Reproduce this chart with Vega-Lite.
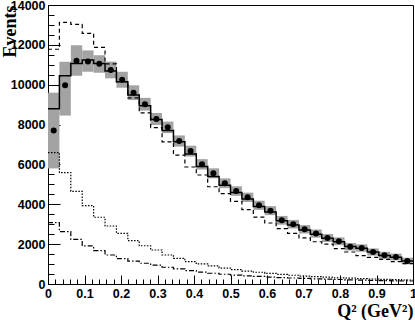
{
 "$schema": "https://vega.github.io/schema/vega-lite/v6.json",
 "width": 365, "height": 279,
 "padding": {"left": 48, "top": 5, "right": 2, "bottom": 36},
 "autosize": {"type": "none"},
 "config": {"view": {"stroke": "black", "strokeWidth": 1}, "background": "white"},
 "data": {"values": [
  {"lo": 0, "hi": 0.03125, "c": 0.015625, "d": 7700, "bl": 5800, "bh": 9600, "s": 8800, "ds": 11780, "dt": 6590, "dd": 3080},
  {"lo": 0.03125, "hi": 0.0625, "c": 0.046875, "d": 9970, "bl": 8450, "bh": 11150, "s": 10450, "ds": 13130, "dt": 5590, "dd": 2630},
  {"lo": 0.0625, "hi": 0.09375, "c": 0.078125, "d": 11200, "bl": 10450, "bh": 11980, "s": 11070, "ds": 13030, "dt": 4650, "dd": 2240},
  {"lo": 0.09375, "hi": 0.125, "c": 0.109375, "d": 11170, "bl": 10650, "bh": 11720, "s": 11240, "ds": 12580, "dt": 3930, "dd": 1910},
  {"lo": 0.125, "hi": 0.15625, "c": 0.140625, "d": 11050, "bl": 10600, "bh": 11480, "s": 11070, "ds": 11870, "dt": 3350, "dd": 1670},
  {"lo": 0.15625, "hi": 0.1875, "c": 0.171875, "d": 10740, "bl": 10320, "bh": 11160, "s": 10690, "ds": 11050, "dt": 2910, "dd": 1455},
  {"lo": 0.1875, "hi": 0.21875, "c": 0.203125, "d": 10250, "bl": 9850, "bh": 10650, "s": 10150, "ds": 10150, "dt": 2545, "dd": 1270},
  {"lo": 0.21875, "hi": 0.25, "c": 0.234375, "d": 9600, "bl": 9230, "bh": 9970, "s": 9480, "ds": 9340, "dt": 2175, "dd": 1150},
  {"lo": 0.25, "hi": 0.28125, "c": 0.265625, "d": 9020, "bl": 8700, "bh": 9340, "s": 8950, "ds": 8590, "dt": 1920, "dd": 1040},
  {"lo": 0.28125, "hi": 0.3125, "c": 0.296875, "d": 8280, "bl": 7980, "bh": 8580, "s": 8250, "ds": 7850, "dt": 1705, "dd": 950},
  {"lo": 0.3125, "hi": 0.34375, "c": 0.328125, "d": 7860, "bl": 7570, "bh": 8150, "s": 7700, "ds": 7130, "dt": 1455, "dd": 840},
  {"lo": 0.34375, "hi": 0.375, "c": 0.359375, "d": 7175, "bl": 6895, "bh": 7455, "s": 7140, "ds": 6470, "dt": 1290, "dd": 755},
  {"lo": 0.375, "hi": 0.40625, "c": 0.390625, "d": 6670, "bl": 6400, "bh": 6940, "s": 6520, "ds": 5870, "dt": 1120, "dd": 670},
  {"lo": 0.40625, "hi": 0.4375, "c": 0.421875, "d": 6005, "bl": 5745, "bh": 6265, "s": 5900, "ds": 5470, "dt": 1005, "dd": 600},
  {"lo": 0.4375, "hi": 0.46875, "c": 0.453125, "d": 5555, "bl": 5305, "bh": 5805, "s": 5400, "ds": 4880, "dt": 905, "dd": 540},
  {"lo": 0.46875, "hi": 0.5, "c": 0.484375, "d": 5055, "bl": 4810, "bh": 5300, "s": 4950, "ds": 4530, "dt": 800, "dd": 490},
  {"lo": 0.5, "hi": 0.53125, "c": 0.515625, "d": 4665, "bl": 4425, "bh": 4905, "s": 4590, "ds": 4150, "dt": 720, "dd": 450},
  {"lo": 0.53125, "hi": 0.5625, "c": 0.546875, "d": 4350, "bl": 4115, "bh": 4585, "s": 4270, "ds": 3730, "dt": 650, "dd": 410},
  {"lo": 0.5625, "hi": 0.59375, "c": 0.578125, "d": 3950, "bl": 3720, "bh": 4180, "s": 3890, "ds": 3360, "dt": 590, "dd": 380},
  {"lo": 0.59375, "hi": 0.625, "c": 0.609375, "d": 3680, "bl": 3455, "bh": 3905, "s": 3610, "ds": 3060, "dt": 530, "dd": 350},
  {"lo": 0.625, "hi": 0.65625, "c": 0.640625, "d": 3195, "bl": 2975, "bh": 3415, "s": 3170, "ds": 2775, "dt": 480, "dd": 320},
  {"lo": 0.65625, "hi": 0.6875, "c": 0.671875, "d": 3000, "bl": 2785, "bh": 3215, "s": 2960, "ds": 2545, "dt": 440, "dd": 300},
  {"lo": 0.6875, "hi": 0.71875, "c": 0.703125, "d": 2745, "bl": 2535, "bh": 2955, "s": 2710, "ds": 2310, "dt": 400, "dd": 280},
  {"lo": 0.71875, "hi": 0.75, "c": 0.734375, "d": 2530, "bl": 2325, "bh": 2735, "s": 2500, "ds": 2120, "dt": 370, "dd": 260},
  {"lo": 0.75, "hi": 0.78125, "c": 0.765625, "d": 2310, "bl": 2110, "bh": 2510, "s": 2290, "ds": 2005, "dt": 340, "dd": 240},
  {"lo": 0.78125, "hi": 0.8125, "c": 0.796875, "d": 2145, "bl": 1950, "bh": 2340, "s": 2120, "ds": 1775, "dt": 310, "dd": 225},
  {"lo": 0.8125, "hi": 0.84375, "c": 0.828125, "d": 1870, "bl": 1680, "bh": 2060, "s": 1880, "ds": 1605, "dt": 290, "dd": 210},
  {"lo": 0.84375, "hi": 0.875, "c": 0.859375, "d": 1805, "bl": 1620, "bh": 1990, "s": 1790, "ds": 1420, "dt": 270, "dd": 195},
  {"lo": 0.875, "hi": 0.90625, "c": 0.890625, "d": 1605, "bl": 1425, "bh": 1785, "s": 1600, "ds": 1340, "dt": 250, "dd": 180},
  {"lo": 0.90625, "hi": 0.9375, "c": 0.921875, "d": 1440, "bl": 1265, "bh": 1615, "s": 1430, "ds": 1240, "dt": 230, "dd": 170},
  {"lo": 0.9375, "hi": 0.96875, "c": 0.953125, "d": 1355, "bl": 1185, "bh": 1525, "s": 1340, "ds": 1120, "dt": 215, "dd": 160},
  {"lo": 0.96875, "hi": 1, "c": 0.984375, "d": 1155, "bl": 990, "bh": 1320, "s": 1160, "ds": 1020, "dt": 200, "dd": 150},
  {"lo": 1, "s": 1160, "ds": 1020, "dt": 200, "dd": 150}
 ]},
 "layer": [
  {
   "transform": [{"filter": "datum.d != null"}],
   "mark": {"type": "rect", "color": "#a3a3a3"},
   "encoding": {
    "x": {"field": "lo", "type": "quantitative", "scale": {"domain": [0, 1], "nice": false},
      "axis": {"orient": "bottom", "values": [0, 0.1, 0.2, 0.3, 0.4, 0.5, 0.6, 0.7, 0.8, 0.9, 1], "format": "~g",
        "tickSize": -9, "tickColor": "black", "tickWidth": 1, "domainColor": "black", "domainWidth": 1,
        "labelFont": "Liberation Sans", "labelFontWeight": "bold", "labelFontSize": 12.5, "labelColor": "black",
        "labelPadding": 12, "labelOverlap": false, "labelFlush": false, "labelBound": false, "grid": false,
        "title": "Q² (GeV²)", "titleFont": "Liberation Serif", "titleFontSize": 18, "titleFontWeight": "bold", "titleColor": "black",
        "titleAlign": "right", "titleBaseline": "alphabetic", "titleX": 365, "titleY": 32}},
    "x2": {"field": "hi"},
    "y": {"field": "bl", "type": "quantitative", "scale": {"domain": [0, 14000], "nice": false},
      "axis": {"orient": "left", "values": [0, 2000, 4000, 6000, 8000, 10000, 12000, 14000], "format": "d",
        "tickSize": -12, "tickColor": "black", "tickWidth": 1, "domainColor": "black", "domainWidth": 1,
        "labelFont": "Liberation Sans", "labelFontWeight": "bold", "labelFontSize": 12.5, "labelColor": "black",
        "labelPadding": 15, "labelOverlap": false, "labelFlush": false, "grid": false,
        "title": "Events", "titleFont": "Liberation Serif", "titleFontSize": 18, "titleFontWeight": "bold", "titleColor": "black",
        "titleAngle": -90, "titleAlign": "right", "titleBaseline": "alphabetic", "titleX": -33, "titleY": 0}},
    "y2": {"field": "bh"}
   }
  },
  {
   "mark": {"type": "line", "interpolate": "step-after", "color": "black", "strokeWidth": 1.5},
   "encoding": {
    "x": {"field": "lo", "type": "quantitative",
      "axis": {"orient": "bottom", "values": [0,0.02,0.04,0.06,0.08,0.1,0.12,0.14,0.16,0.18,0.2,0.22,0.24,0.26,0.28,0.3,0.32,0.34,0.36,0.38,0.4,0.42,0.44,0.46,0.48,0.5,0.52,0.54,0.56,0.58,0.6,0.62,0.64,0.66,0.68,0.7,0.72,0.74,0.76,0.78,0.8,0.82,0.84,0.86,0.88,0.9,0.92,0.94,0.96,0.98,1],
        "tickSize": -5, "tickColor": "black", "tickWidth": 1, "labels": false, "domain": false, "grid": false, "title": null}},
    "y": {"field": "s", "type": "quantitative",
      "axis": {"orient": "left", "values": [0,500,1000,1500,2000,2500,3000,3500,4000,4500,5000,5500,6000,6500,7000,7500,8000,8500,9000,9500,10000,10500,11000,11500,12000,12500,13000,13500,14000],
        "tickSize": -6, "tickColor": "black", "tickWidth": 1, "labels": false, "domain": false, "grid": false, "title": null}}
   }
  },
  {
   "mark": {"type": "line", "interpolate": "step-after", "color": "black", "strokeWidth": 1.2, "strokeDash": [4, 3]},
   "encoding": {
    "x": {"field": "lo", "type": "quantitative", "axis": null},
    "y": {"field": "ds", "type": "quantitative", "axis": null}
   }
  },
  {
   "mark": {"type": "line", "interpolate": "step-after", "color": "black", "strokeWidth": 1.2, "strokeDash": [1.5, 1.5]},
   "encoding": {
    "x": {"field": "lo", "type": "quantitative", "axis": null},
    "y": {"field": "dt", "type": "quantitative", "axis": null}
   }
  },
  {
   "mark": {"type": "line", "interpolate": "step-after", "color": "black", "strokeWidth": 1.2, "strokeDash": [5, 2, 1.5, 2]},
   "encoding": {
    "x": {"field": "lo", "type": "quantitative", "axis": null},
    "y": {"field": "dd", "type": "quantitative", "axis": null}
   }
  },
  {
   "transform": [{"filter": "datum.d != null"}],
   "mark": {"type": "circle", "color": "black", "opacity": 1, "size": 36},
   "encoding": {
    "x": {"field": "c", "type": "quantitative", "axis": null},
    "y": {"field": "d", "type": "quantitative", "axis": null}
   }
  }
 ],
 "resolve": {"axis": {"x": "independent", "y": "independent"}}
}
